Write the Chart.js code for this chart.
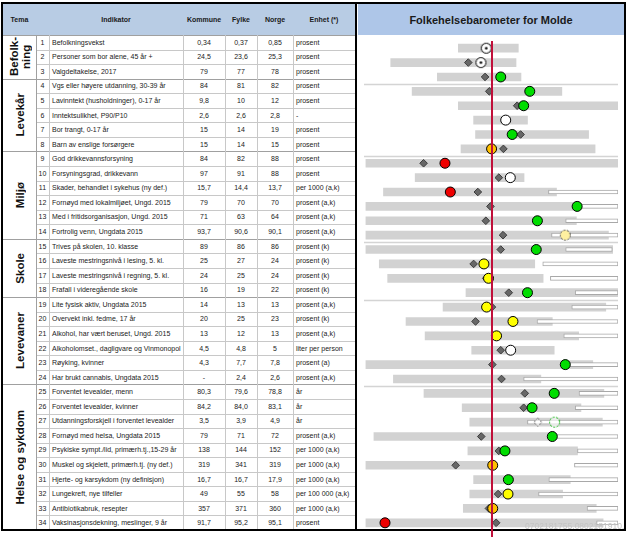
<!DOCTYPE html>
<html>
<head>
<meta charset="utf-8">
<script src="https://cdn.jsdelivr.net/npm/chart.js@4.4.1/dist/chart.umd.min.js"></script>
<style>
  body { margin: 0; background: #fff; font-family: "Liberation Sans", Arial, sans-serif; }
  #page { position: relative; width: 631px; height: 537px; overflow: hidden; }
  .c { position: absolute; box-sizing: border-box; font-size: 7px; color: #222; white-space: nowrap;
       overflow: hidden; display: flex; align-items: center; }
  .ctr { justify-content: center; }
  .hd { font-weight: bold; color: #1a1a1a; }
  .ln { position: absolute; }
  .tema { position: absolute; display: flex; align-items: center; justify-content: center;
          font-weight: bold; font-size: 11.5px; color: #111; line-height: 12px; }
  .tema span { writing-mode: vertical-rl; transform: rotate(180deg); text-align: center; }
  #panel { position: absolute; left: 358px; top: 0; width: 266px; height: 537px; overflow: hidden; }
  #chart { position: absolute; left: 0; top: 35px; }
  #stamp { position: absolute; left: 167px; top: 521px; font-size: 8.5px; color: #c4c4c4; white-space: nowrap; }
</style>
</head>
<body>
<div id="page">
  <div id="panel">
    <div class="c hd ctr" style="left:0;top:4px;width:266px;height:31px;background:#aec6e8;font-size:11px;">Folkehelsebarometer for Molde</div>
    <canvas id="chart" width="266" height="502"></canvas>
    <div id="stamp">0702181755.0802181910.1502</div>
  </div>
</div>
<script>
// ---- table data
const indikator = [
  'Befolkningsvekst', 'Personer som bor alene, 45 år +', 'Valgdeltakelse, 2017',
  'Vgs eller høyere utdanning, 30-39 år', 'Lavinntekt (husholdninger), 0-17 år', 'Inntektsulikhet, P90/P10',
  'Bor trangt, 0-17 år', 'Barn av enslige forsørgere',
  'God drikkevannsforsyning', 'Forsyningsgrad, drikkevann', 'Skader, behandlet i sykehus (ny def.)',
  'Fornøyd med lokalmiljøet, Ungd. 2015', 'Med i fritidsorganisasjon, Ungd. 2015', 'Fortrolig venn, Ungdata 2015',
  'Trives på skolen, 10. klasse', 'Laveste mestringsnivå i lesing, 5. kl.', 'Laveste mestringsnivå i regning, 5. kl.',
  'Frafall i videregående skole',
  'Lite fysisk aktiv, Ungdata 2015', 'Overvekt inkl. fedme, 17 år', 'Alkohol, har vært beruset, Ungd. 2015',
  'Alkoholomset., dagligvare og Vinmonopol', 'Røyking, kvinner', 'Har brukt cannabis, Ungdata 2015',
  'Forventet levealder, menn', 'Forventet levealder, kvinner', 'Utdanningsforskjell i forventet levealder',
  'Fornøyd med helsa, Ungdata 2015', 'Psykiske sympt./lid, primærh.tj.,15-29 år', 'Muskel og skjelett, primærh.tj. (ny def.)',
  'Hjerte- og karsykdom (ny definisjon)', 'Lungekreft, nye tilfeller', 'Antibiotikabruk, resepter',
  'Vaksinasjonsdekning, meslinger, 9 år'
];
const kommune = ['0,34','24,5','79','84','9,8','2,6','15','15','84','97','15,7','79','71','93,7','89','25','24','16',
  '14','20','13','4,5','4,3','-','80,3','84,2','3,5','79','138','319','16,7','49','357','91,7'];
const fylke = ['0,37','23,6','77','81','10','2,6','14','14','82','91','14,4','70','63','90,6','86','27','25','19',
  '13','25','12','4,8','7,7','2,4','79,6','84,0','3,9','71','144','341','16,7','55','371','95,2'];
const norge = ['0,85','25,3','78','82','12','2,8','19','15','88','88','13,7','70','64','90,1','86','24','24','22',
  '13','23','13','5','7,8','2,6','78,8','83,1','4,9','72','152','319','17,9','58','360','95,1'];
const enhet = ['prosent','prosent','prosent','prosent','prosent','-','prosent','prosent','prosent','prosent',
  'per 1000 (a,k)','prosent (a,k)','prosent (a,k)','prosent (a,k)','prosent (k)','prosent (k)','prosent (k)','prosent (k)',
  'prosent (a,k)','prosent (k)','prosent (a,k)','liter per person','prosent (a)','prosent (a,k)','år','år','år',
  'prosent (a,k)','per 1000 (a,k)','per 1000 (a,k)','per 1000 (a,k)','per 100 000 (a,k)','per 1000 (a,k)','prosent'];
const temaNames = ['Befolk-<br>ning', 'Levekår', 'Miljø', 'Skole', 'Levevaner', 'Helse og sykdom'];
const temaStart = [0, 3, 8, 14, 18, 24, 34];

// ---- barometer data (standardised position, Norge = 0)
const barLow  = [-0.88,-2.65,-1.43,-2.09,-0.88,-0.48,-0.43,-0.81,-3.3,-2.01,-2.84,-3.3,-3.3,-3.3,-3.3,-2.95,-2.73,-0.68,
  -1.28,-2.25,-1.75,-0.53,-3.3,-2.58,-1.78,-0.78,-0.58,-3.09,-0.63,-3.3,-0.48,-0.58,-0.75,-3.3];
const barHigh = [0.69,0.63,0.76,1.83,3.3,0.93,2.53,2.7,3.3,0.84,1.69,2.21,2.21,3.05,3.16,1.12,1.34,3.3,
  2.98,1.58,2.27,1.63,2.64,1.28,2.93,2.33,2.89,1.58,2.24,0.05,2.05,1.85,2.73,2.91];
const whiskLow  = [null,null,null,null,null,null,null,null,null,null,1.48,2.2,1.93,1.56,1.93,1.33,1.53,2.18,
  2.09,1.18,1.88,null,1.93,0.83,2.28,2.18,0.93,1.58,2.24,2.16,1.49,1.22,2.49,2.74];
const whiskHigh = [null,null,null,null,null,null,null,null,null,null,3.3,3.3,3.3,3.3,3.15,3.3,3.3,3.3,
  3.3,3.3,3.3,null,3.3,3.3,3.3,3.3,3.3,3.3,3.3,3.3,3.3,3.3,3.3,3.3];
const fylkePos = [-0.13,-0.62,-0.18,-0.07,0.66,0.36,0.75,0.3,-1.79,0.18,-0.37,-0.04,-0.16,0.29,0.23,-0.48,-0.15,0.44,
  0,-0.43,0.08,0.23,0.01,0.25,0.86,0.83,1.2,-0.28,0.18,-0.95,0.43,0.16,-0.08,0.11];
const kommunePos = [-0.15,-0.29,0.23,0.99,0.83,0.36,0.53,-0.01,-1.23,0.48,-1.09,2.23,1.19,1.92,1.16,-0.21,-0.09,0.93,
  -0.14,0.55,0.12,0.49,1.92,null,1.63,1.05,1.64,1.58,0.34,0.02,0.43,0.42,0.02,-2.8];
const kommuneColor = ['whiteDot','whiteDot','green','green','green','white','green','orange','red','white','red','green',
  'green','yellowDash','green','yellow','yellow','green','yellow','yellow','yellow','white','green','none','green','green',
  'greenDash','green','green','orange','green','yellow','orange','red'];
const fylkeStyle = kommuneColor.map(c => c === 'greenDash' ? 'dash' : 'solid');

// ---- build table
const page = document.getElementById('page');
const ROW_TOP = 35, ROW_H = 495 / 34;
function box(cls, x, y, w, h, html, extra) {
  const d = document.createElement('div');
  d.className = cls;
  d.style.cssText = `left:${x}px;top:${y}px;width:${w}px;height:${h}px;` + (extra || '');
  d.innerHTML = html;
  page.appendChild(d);
  return d;
}
function line(x, y, w, h, col) { box('ln', x, y, w, h, '', 'background:' + col); }

box('c', 3, 4, 352, 31, '', 'background:#b8cce4');
box('c hd ctr', 3, 4, 33, 31, 'Tema');
box('c hd ctr', 49, 4, 134, 31, 'Indikator');
box('c hd ctr', 183, 4, 42, 31, 'Kommune');
box('c hd ctr', 225, 4, 32, 31, 'Fylke');
box('c hd ctr', 257, 4, 36, 31, 'Norge');
box('c hd ctr', 293, 4, 62, 31, 'Enhet (*)');

indikator.forEach((name, i) => {
  const y = ROW_TOP + i * ROW_H;
  box('c ctr', 36, y, 13, ROW_H, String(i + 1));
  box('c', 49, y, 134, ROW_H, name, 'padding-left:3px');
  box('c ctr', 183, y, 42, ROW_H, kommune[i]);
  box('c ctr', 225, y, 32, ROW_H, fylke[i]);
  box('c ctr', 257, y, 36, ROW_H, norge[i]);
  box('c', 293, y, 62, ROW_H, enhet[i], 'padding-left:3px');
  if (i > 0 && !temaStart.includes(i)) line(36, Math.round(y), 319, 1, '#c8c8c8');
});
for (let g = 0; g < temaNames.length; g++) {
  const y0 = ROW_TOP + temaStart[g] * ROW_H, y1 = ROW_TOP + temaStart[g + 1] * ROW_H;
  const t = box('tema', 3, y0, 33, y1 - y0, '<span>' + temaNames[g] + '</span>');
  if (g > 0) line(3, Math.round(y0), 352, 1, '#a0a0a0');
}
line(3, 35, 352, 1, '#a0a0a0');
[36].forEach(x => line(x, 35, 1, 495, '#a0a0a0'));
[49, 183, 225, 257, 293].forEach(x => line(x, 35, 1, 495, '#c8c8c8'));
// black frame
line(1, 2, 625, 2, '#000');
line(1, 2, 2, 529, '#000');
line(1, 529, 625, 2, '#000');
line(355, 2, 2, 529, '#000');
line(624, 2, 2, 529, '#000');
// keep chart panel above frame so the red line crosses the bottom border
document.getElementById('panel').style.zIndex = 5;

// ---- markers
function marker(fill, stroke, dashed, dot, diamond) {
  const c = document.createElement('canvas');
  c.width = 13; c.height = 13;
  const g = c.getContext('2d');
  g.beginPath();
  if (diamond) { g.moveTo(6.5, 2.5); g.lineTo(10.5, 6.5); g.lineTo(6.5, 10.5); g.lineTo(2.5, 6.5); g.closePath(); }
  else g.arc(6.5, 6.5, 5, 0, Math.PI * 2);
  g.fillStyle = fill; g.fill();
  if (dashed) g.setLineDash([2, 1.5]);
  g.strokeStyle = stroke; g.lineWidth = 1; g.stroke();
  if (dot) { g.setLineDash([]); g.beginPath(); g.arc(6.5, 6.5, 1.3, 0, Math.PI * 2); g.fillStyle = '#000'; g.fill(); }
  return c;
}
const fills = { green: '#00dd00', red: '#ee0000', yellow: '#ffff00', orange: '#ffc000', white: '#ffffff', none: '#ffffff' };
const special = {
  whiteDot: marker('#ffffff', '#000', false, true),
  yellowDash: marker('#fff0a0', '#444', true, false),
  greenDash: marker('rgba(255,255,255,0.6)', '#00b000', true, false)
};
const dashDiamond = marker('rgba(255,255,255,0.6)', '#555', true, false, true);

const labels = indikator.map((_, i) => String(i + 1));

const refLines = {
  id: 'refLines',
  beforeDatasetsDraw(chart) {
    const { ctx, chartArea, scales } = chart;
    ctx.save();
    ctx.strokeStyle = '#d4d4d4';
    ctx.lineWidth = 1.5;
    temaStart.slice(1, -1).forEach(i => {
      const y = Math.round((scales.y.getPixelForValue(i - 1) + scales.y.getPixelForValue(i)) / 2) + 0.5;
      ctx.beginPath(); ctx.moveTo(chartArea.left, y); ctx.lineTo(chartArea.right, y); ctx.stroke();
    });
    ctx.restore();
  },
  afterDatasetsDraw(chart) {
    const { ctx, chartArea, scales } = chart;
    const x = Math.round(scales.x.getPixelForValue(0));
    ctx.save();
    ctx.strokeStyle = '#c0103a';
    ctx.lineWidth = 2;
    ctx.beginPath(); ctx.moveTo(x, chartArea.top); ctx.lineTo(x, chart.height); ctx.stroke();
    ctx.restore();
  }
};

new Chart(document.getElementById('chart'), {
  type: 'bar',
  data: {
    labels: labels,
    datasets: [
      {
        type: 'line', indexAxis: 'y', order: 1, showLine: false,
        data: kommunePos,
        pointStyle: kommuneColor.map(c => special[c] || 'circle'),
        pointRadius: 5, pointHoverRadius: 5,
        pointBackgroundColor: kommuneColor.map(c => fills[c] || '#fff'),
        pointBorderColor: '#000', pointBorderWidth: 1
      },
      {
        type: 'line', indexAxis: 'y', order: 2, showLine: false,
        data: fylkePos,
        pointStyle: fylkeStyle.map(s => s === 'dash' ? dashDiamond : 'rectRot'),
        pointRadius: 3.8, pointHoverRadius: 3.8,
        pointBackgroundColor: '#676767', pointBorderColor: '#3c3c3c', pointBorderWidth: 1
      },
      {
        indexAxis: 'y', order: 3, grouped: false,
        data: whiskLow.map((lo, i) => lo === null ? null : [lo, whiskHigh[i]]),
        backgroundColor: '#ffffff', borderColor: '#a8a8a8', borderWidth: 1, borderSkipped: false,
        barThickness: 4
      },
      {
        indexAxis: 'y', order: 4, grouped: false,
        data: barLow.map((lo, i) => [lo, barHigh[i]]),
        backgroundColor: '#d2d2d2', borderWidth: 0,
        barThickness: 8
      }
    ]
  },
  options: {
    indexAxis: 'y',
    responsive: false,
    animation: false,
    devicePixelRatio: 1,
    layout: { padding: { left: 0, right: 0, top: 0, bottom: 7 } },
    plugins: { legend: { display: false }, tooltip: { enabled: false } },
    scales: {
      x: { type: 'linear', min: -3.35, max: 3.3, display: false },
      y: { type: 'category', display: false, offset: true }
    }
  },
  plugins: [refLines]
});
</script>
</body>
</html>
